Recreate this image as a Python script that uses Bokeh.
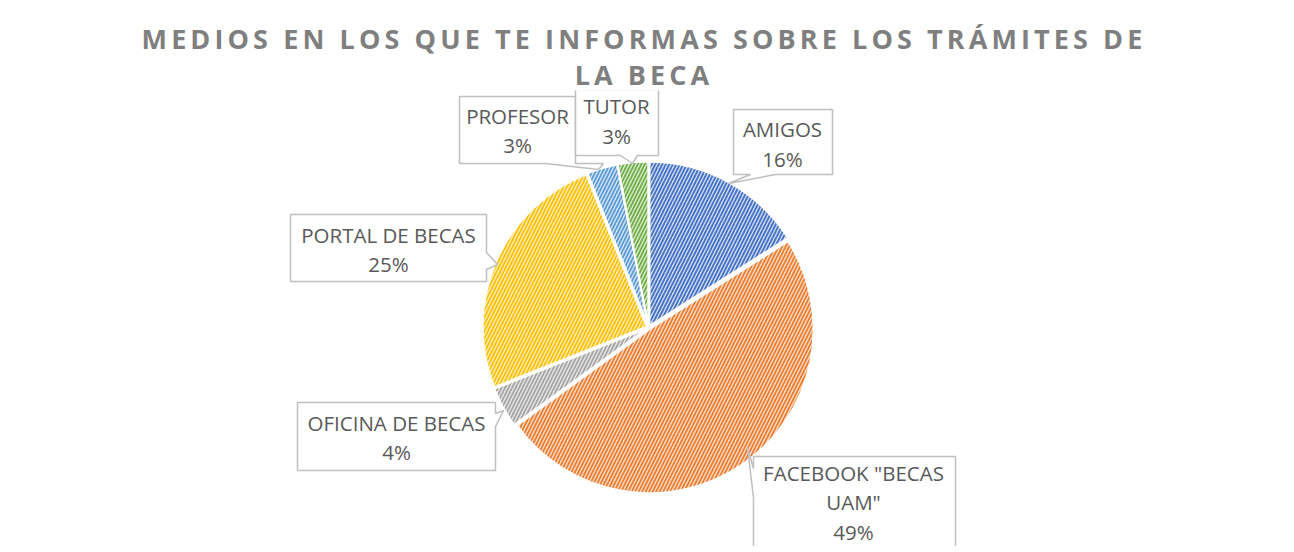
import math
from bokeh.plotting import figure
from bokeh.models import Div, Range1d
from bokeh.layouts import column
from bokeh.core.properties import value
from bokeh.embed import file_html
from bokeh.resources import INLINE

# ---- data ----
categories = ["AMIGOS", 'FACEBOOK "BECAS UAM"', "OFICINA DE BECAS",
              "PORTAL DE BECAS", "PROFESOR", "TUTOR"]
percent = [16, 49, 4, 25, 3, 3]
label_lines = [["AMIGOS"], ['FACEBOOK "BECAS', 'UAM"'], ["OFICINA DE BECAS"],
               ["PORTAL DE BECAS"], ["PROFESOR"], ["TUTOR"]]
title_lines = ["MEDIOS EN LOS QUE TE INFORMAS SOBRE LOS TRÁMITES DE", "LA BECA"]

# ---- styles ----
main_colors = ["#4472C4", "#ED7D31", "#A5A5A5", "#FFC000", "#5B9BD5", "#70AD47"]
tint_colors = ["#D3DDF1", "#FBDFCB", "#E9E9E9", "#FFEFBF", "#D9E7F5", "#DDEDD3"]

W, H_TITLE, H_FIG = 1278, 80, 456
PY = lambda y: 552 - y  # reference pixel y -> data y
X0 = 0
LINE_GAP = 29.5

# pie geometry (reference pixel space)
CX, CY, R, EXPLODE = 648, 325, 164, 2

# callout layout: box (left, top, right, bottom), pointer (edge pt, tip, edge pt), text centre
callouts = [
    dict(box=(733, 107, 832, 172), ptr=[(775, 172), (728, 181), (750, 172)], txt=(782, 141.5)),
    dict(box=(753, 454, 955, 560), ptr=[(753, 466), (747, 445), (753, 495)], txt=(853, 499.5)),
    dict(box=(297, 400, 495, 468), ptr=[(495, 411), (503, 408), (495, 424)], txt=(396, 435)),
    dict(box=(290, 212, 486, 279), ptr=[(486, 250), (497, 262), (486, 267)], txt=(388, 247)),
    dict(box=(459, 94, 575, 161), ptr=[(603, 161), (598, 167), (545, 161)], txt=(517, 128)),
    dict(box=(575, 87, 658, 153), ptr=[(637, 153), (632, 161), (620, 153)], txt=(616, 118.5)),
]

p = figure(width=W, height=H_FIG, output_backend="svg", toolbar_location=None,
           x_range=Range1d(X0, X0 + W), y_range=Range1d(PY(544), PY(544 - H_FIG)),
           min_border=0, background_fill_color="white", border_fill_color="white")
p.axis.visible = False
p.grid.visible = False
p.outline_line_color = None

# wedges, clockwise from 12 o'clock
total = sum(percent)
cum = 0
for i, v in enumerate(percent):
    a0 = math.pi / 2 - 2 * math.pi * cum / total
    cum += v
    a1 = math.pi / 2 - 2 * math.pi * cum / total
    mid = (a0 + a1) / 2
    cx = CX + EXPLODE * math.cos(mid)
    cy = PY(CY) + EXPLODE * math.sin(mid)
    p.wedge(x=cx, y=cy, radius=R, start_angle=a0, end_angle=a1, direction="clock",
            fill_color=tint_colors[i], line_color="white", line_width=2,
            hatch_pattern="/", hatch_color=main_colors[i], hatch_scale=7, hatch_weight=1.8)

# callouts
xs, ys = [], []
for c in callouts:
    l, t, r, b = c["box"]
    (e1x, e1y), (tx, ty), (e2x, e2y) = c["ptr"]
    edges = [((l, t), (r, t)), ((r, t), (r, b)), ((r, b), (l, b)), ((l, b), (l, t))]
    poly = []
    for (ax, ay), (bx, by) in edges:
        poly.append((ax, ay))
        def on(x, y):
            return (abs(ay - by) < 1e-6 and abs(y - ay) < 1e-6) or \
                   (abs(ax - bx) < 1e-6 and abs(x - ax) < 1e-6)
        if on(e1x, e1y) and on(e2x, e2y):
            d1 = (e1x - ax) ** 2 + (e1y - ay) ** 2
            d2 = (e2x - ax) ** 2 + (e2y - ay) ** 2
            first, second = ((e1x, e1y), (e2x, e2y)) if d1 < d2 else ((e2x, e2y), (e1x, e1y))
            poly += [first, (tx, ty), second]
    xs.append([q[0] for q in poly])
    ys.append([PY(q[1]) for q in poly])
p.patches(xs, ys, fill_color="white", line_color="#BFBFBF", line_width=1.5)

tx_, ty_, tt_ = [], [], []
for i, c in enumerate(callouts):
    lines = label_lines[i] + [f"{percent[i]}%"]
    n = len(lines)
    for k, s in enumerate(lines):
        tx_.append(c["txt"][0])
        ty_.append(PY(c["txt"][1] + (k - (n - 1) / 2) * LINE_GAP))
        tt_.append(s)
p.text(x=tx_, y=ty_, text=tt_, text_align="center", text_baseline="middle",
       text_font=value("Open Sans"), text_font_size="20.5px", text_color="#595959")

title = Div(text="<div style=\"width:1278px;text-align:center;font-family:'Open Sans';font-weight:bold;"
                 "font-size:27px;letter-spacing:4.1px;color:#7F7F7F;line-height:36px;"
                 "padding-top:16px;white-space:nowrap\">" + "<br>".join(title_lines) + "</div>",
            width=W, height=H_TITLE, styles={"overflow": "visible", "width": "1278px",
                                             "text-align": "center"})

layout = column(title, p, spacing=0)
open("out.html", "w").write(file_html(layout, INLINE))
